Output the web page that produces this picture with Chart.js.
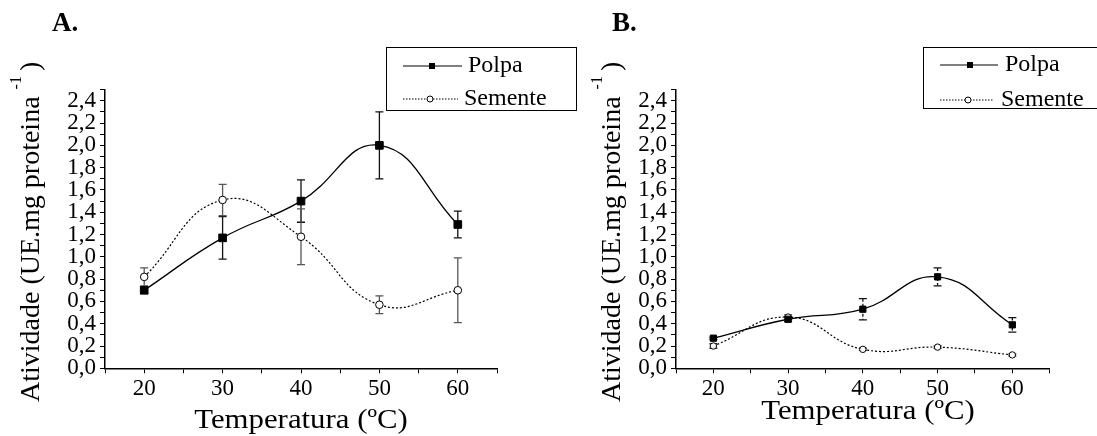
<!DOCTYPE html>
<html lang="pt">
<head>
<meta charset="UTF-8">
<title>Atividade x Temperatura</title>
<script src="https://cdn.jsdelivr.net/npm/chart.js"></script>
<style>
  body { margin: 0; background: #fff; }
  .wrap { position: relative; width: 1097px; height: 436px; overflow: hidden; }
  canvas { position: absolute; top: 0; }
  #chartA { left: 0; }
  #chartB { left: 585px; }
</style>
</head>
<body>
<div class="wrap">
  <canvas id="chartA" width="600" height="436"></canvas>
  <canvas id="chartB" width="512" height="436"></canvas>
</div>
<script>
// Temperatura (ºC)
const temps = [20, 30, 40, 50, 60];

// A. atividade (UE.mg proteina-1) e desvios
const polpaA = [0.70, 1.17, 1.50, 2.00, 1.29];
const polpaAErr = [0.03, 0.19, 0.19, 0.30, 0.12];
const sementeA = [0.82, 1.51, 1.18, 0.57, 0.70];
const sementeAErr = [0.08, 0.14, 0.25, 0.08, 0.29];

// B.
const polpaB = [0.27, 0.44, 0.53, 0.82, 0.39];
const polpaBErr = [0.01, 0.02, 0.095, 0.08, 0.065];
const sementeB = [0.20, 0.46, 0.17, 0.19, 0.12];
const sementeBErr = [0.02, 0.02, 0.01, 0.01, 0.01];

const serif = '"Liberation Serif", "Times New Roman", serif';
const font = (size, bold) => (bold ? 'bold ' : '') + size + 'px ' + serif;
const toXY = vals => temps.map((t, i) => ({ x: t, y: vals[i] }));

// error bars, drawn under the markers
const errorBars = {
    id: 'errorBars',
    beforeDatasetsDraw(chart) {
        const ctx = chart.ctx;
        const xs = chart.scales.x, ys = chart.scales.y;
        chart.data.datasets.forEach(ds => {
            if (!ds.errors) return;
            ctx.save();
            ctx.strokeStyle = ds.errColor;
            ctx.lineWidth = 1.3;
            ds.data.forEach((p, i) => {
                const x = xs.getPixelForValue(p.x);
                const top = ys.getPixelForValue(p.y + ds.errors[i]);
                const bot = ys.getPixelForValue(p.y - ds.errors[i]);
                ctx.setLineDash(ds.errDash);
                ctx.beginPath();
                ctx.moveTo(x, top); ctx.lineTo(x, bot);
                ctx.stroke();
                ctx.setLineDash([]);
                ctx.beginPath();
                ctx.moveTo(x - 4, top); ctx.lineTo(x + 4, top);
                ctx.moveTo(x - 4, bot); ctx.lineTo(x + 4, bot);
                ctx.stroke();
            });
            ctx.restore();
        });
    }
};

// panel letter, axis titles and boxed legend
const decor = {
    id: 'decor',
    afterDraw(chart, args, d) {
        const ctx = chart.ctx;
        const ds = chart.data.datasets;
        ctx.save();
        ctx.fillStyle = '#000';
        ctx.strokeStyle = '#000';

        ctx.font = font(27, true);
        ctx.textBaseline = 'middle';
        ctx.textAlign = 'left';
        ctx.fillText(d.label, d.labelX, 24);

        // y title with superscript
        ctx.save();
        ctx.translate(d.yTitleX, 402);
        ctx.rotate(-Math.PI / 2);
        ctx.font = font(28);
        const main = 'Atividade (UE.mg proteina ';
        ctx.fillText(main, 0, 0);
        let w = ctx.measureText(main).width;
        ctx.font = font(16);
        ctx.fillText('-1', w, -15);
        w += ctx.measureText('-1').width + 5;
        ctx.font = font(28);
        ctx.fillText(')', w, 0);
        ctx.restore();

        // x title
        ctx.save();
        ctx.translate(d.xTitleX, d.xTitleY);
        ctx.scale(1.1, 1);
        ctx.font = font(28);
        ctx.textAlign = 'center';
        ctx.fillText('Temperatura (ºC)', 0, 0);
        ctx.restore();

        // legend
        const lg = d.legend;
        ctx.lineWidth = 1;
        ctx.strokeRect(lg.x0 + 0.5, lg.y0 + 0.5, lg.x1 - lg.x0, lg.y1 - lg.y0);
        ctx.font = font(24);
        ctx.beginPath();
        ctx.moveTo(lg.lineX0, lg.row1); ctx.lineTo(lg.lineX1, lg.row1);
        ctx.stroke();
        ctx.fillRect(lg.markX - 3, lg.row1 - 3, 6, 6);
        ctx.fillText(ds[0].label, lg.textX, lg.row1);

        ctx.setLineDash([1.5, 1.5]);
        ctx.beginPath();
        ctx.moveTo(lg.lineX0, lg.row2); ctx.lineTo(lg.lineX1 - 4, lg.row2);
        ctx.stroke();
        ctx.setLineDash([]);
        ctx.beginPath();
        ctx.arc(lg.markX - 2, lg.row2, 3, 0, Math.PI * 2);
        ctx.fillStyle = '#fff';
        ctx.fill();
        ctx.stroke();
        ctx.fillStyle = '#000';
        ctx.fillText(ds[1].label, lg.textX - 4, lg.row2);
        ctx.restore();
    }
};

function axis(extra) {
    return Object.assign({
        type: 'linear',
        border: { display: true, color: '#000', width: 1.5 },
        grid: { drawOnChartArea: false, drawTicks: true, tickLength: 5, color: '#000', lineWidth: 1 },
    }, extra);
}

function makeChart(id, polpa, polpaErr, semente, sementeErr, o) {
    return new Chart(document.getElementById(id), {
        type: 'line',
        data: {
            datasets: [{
                label: 'Polpa',
                data: toXY(polpa),
                errors: polpaErr,
                errColor: '#111',
                errDash: o.errDash,
                borderColor: '#000',
                borderWidth: 1.3,
                tension: 0.45,
                pointStyle: 'rect',
                pointRadius: o.rectR,
                pointBackgroundColor: '#000',
                pointBorderColor: '#000',
                pointBorderWidth: 1
            }, {
                label: 'Semente',
                data: toXY(semente),
                errors: sementeErr,
                errColor: o.semErrColor,
                errDash: o.errDash,
                borderColor: '#000',
                borderWidth: 1.2,
                borderDash: [2, 2],
                tension: 0.45,
                pointStyle: 'circle',
                pointRadius: o.circR,
                pointBackgroundColor: '#fff',
                pointBorderColor: '#000',
                pointBorderWidth: 1
            }]
        },
        options: {
            responsive: false,
            animation: false,
            events: [],
            layout: { autoPadding: false, padding: { left: 0, top: 89.6, right: o.padRight, bottom: 0 } },
            plugins: {
                legend: { display: false },
                tooltip: { enabled: false },
                decor: o.decor
            },
            scales: {
                x: axis({
                    min: 15, max: 65,
                    afterFit: s => { s.height = 67.7; },
                    ticks: {
                        stepSize: 5, autoSkip: false, maxRotation: 0, padding: 2, color: '#000',
                        font: { family: serif, size: 23 },
                        callback: v => (v % 10 === 0 && v >= 20 && v <= 60) ? String(v) : ''
                    }
                }),
                y: axis({
                    min: 0, max: 2.5,
                    afterFit: s => { s.width = o.yWidth; },
                    ticks: {
                        stepSize: 0.1, autoSkip: false, padding: 4, color: '#000',
                        font: { family: serif, size: 23 },
                        callback: v => {
                            const t = Math.round(v * 10);
                            return t % 2 === 0 ? (t / 10).toFixed(1).replace('.', ',') : '';
                        }
                    }
                })
            }
        },
        plugins: [errorBars, decor]
    });
}

makeChart('chartA', polpaA, polpaAErr, sementeA, sementeAErr, {
    yWidth: 105, padRight: 103, rectR: 5.4, circR: 3.8,
    errDash: [], semErrColor: '#555',
    decor: {
        label: 'A.', labelX: 52, yTitleX: 32, xTitleX: 301, xTitleY: 421,
        legend: { x0: 386, y0: 47, x1: 576, y1: 110, lineX0: 403, lineX1: 462, markX: 432, textX: 468, row1: 66, row2: 99 }
    }
});

makeChart('chartB', polpaB, polpaBErr, sementeB, sementeBErr, {
    yWidth: 91, padRight: 47.3, rectR: 4.4, circR: 3.2,
    errDash: [3, 2], semErrColor: '#333',
    decor: {
        label: 'B.', labelX: 27, yTitleX: 27.5, xTitleX: 283, xTitleY: 412,
        legend: { x0: 338, y0: 47, x1: 530, y1: 108, lineX0: 355, lineX1: 413, markX: 385, textX: 420, row1: 65, row2: 100 }
    }
});
</script>
</body>
</html>
